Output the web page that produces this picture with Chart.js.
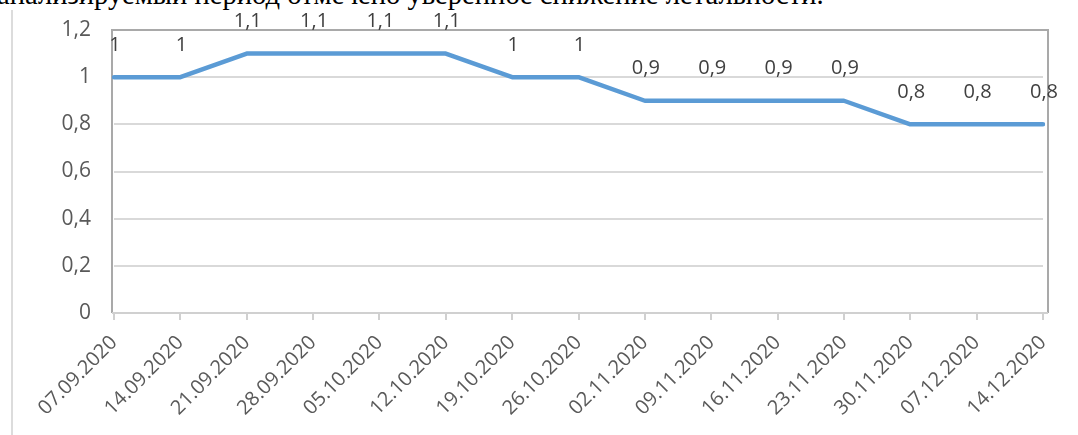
<!DOCTYPE html>
<html lang="ru">
<head>
  <meta charset="UTF-8">
  <title>Летальность</title>
  <script src="https://cdn.jsdelivr.net/npm/chart.js"></script>
  <style>
    html, body {
      margin: 0;
      padding: 0;
      background: #fff;
      overflow: hidden;
    }
    #page {
      position: relative;
      width: 1078px;
      height: 435px;
    }
    #topText {
      position: absolute;
      left: -3px;
      top: -20px;
      font-family: "Liberation Serif", serif;
      font-size: 28.6px;
      line-height: 29px;
      color: #000;
      white-space: nowrap;
    }
    #frameLine {
      position: absolute;
      left: 11px;
      top: 10px;
      width: 2px;
      height: 425px;
      background: #dcdcdc;
    }
    #chartBox {
      position: absolute;
      left: 0;
      top: 0;
      width: 1078px;
      height: 435px;
    }
  </style>
</head>
<body>
<div id="page">
  <div id="topText">анализируемый период отмечено уверенное снижение летальности.</div>
  <div id="frameLine"></div>
  <div id="chartBox"><canvas id="lethalityChart" width="1078" height="435"></canvas></div>
</div>

<script>
  const weeks = ['07.09.2020', '14.09.2020', '21.09.2020', '28.09.2020', '05.10.2020',
    '12.10.2020', '19.10.2020', '26.10.2020', '02.11.2020', '09.11.2020',
    '16.11.2020', '23.11.2020', '30.11.2020', '07.12.2020', '14.12.2020'];
  const lethality = [1, 1, 1.1, 1.1, 1.1, 1.1, 1, 1, 0.9, 0.9, 0.9, 0.9, 0.8, 0.8, 0.8];
  const yTicks = [0, 0.2, 0.4, 0.6, 0.8, 1, 1.2];

  const fmt = v => String(v).replace('.', ',');
  const FONT = '"Open Sans", "Liberation Sans", sans-serif';

  // plot border (grey frame round the plot area)
  const plotFrame = {
    id: 'plotFrame',
    beforeDatasetsDraw(chart) {
      const a = chart.chartArea;
      const ctx = chart.ctx;
      ctx.save();
      ctx.strokeStyle = '#a9a9a9';
      ctx.lineWidth = 2;
      ctx.beginPath();
      ctx.moveTo(a.left - 2, a.bottom);
      ctx.lineTo(a.left - 2, a.top);
      ctx.lineTo(a.right + 5, a.top);
      ctx.lineTo(a.right + 5, a.bottom);
      ctx.stroke();
      ctx.strokeStyle = '#d0d0d0';
      ctx.beginPath();
      ctx.moveTo(a.left - 2, a.bottom);
      ctx.lineTo(a.right + 5, a.bottom);
      ctx.stroke();
      ctx.restore();
    }
  };

  // value labels above each point
  const pointLabels = {
    id: 'pointLabels',
    afterDatasetsDraw(chart) {
      const ctx = chart.ctx;
      const meta = chart.getDatasetMeta(0);
      ctx.save();
      ctx.font = '20px ' + FONT;
      ctx.fillStyle = '#404040';
      ctx.textAlign = 'center';
      ctx.textBaseline = 'middle';
      meta.data.forEach((pt, i) => {
        ctx.fillText(fmt(lethality[i]), pt.x + 1, pt.y - 32);
      });
      ctx.restore();
    }
  };

  new Chart(document.getElementById('lethalityChart'), {
    type: 'line',
    data: {
      labels: weeks,
      datasets: [{
        data: lethality,
        borderColor: '#5b9bd5',
        borderWidth: 4.5,
        borderCapStyle: 'round',
        borderJoinStyle: 'round',
        pointRadius: 0,
        tension: 0,
        fill: false
      }]
    },
    options: {
      responsive: false,
      animation: false,
      layout: { padding: { left: 0, top: 30, right: 35, bottom: 0 } },
      plugins: {
        legend: { display: false },
        tooltip: { enabled: false }
      },
      scales: {
        x: {
          offset: false,
          border: { display: false },
          grid: {
            drawOnChartArea: false,
            drawTicks: true,
            tickLength: 7,
            color: '#d0d0d0',
            lineWidth: 2
          },
          ticks: {
            autoSkip: false,
            minRotation: 45,
            maxRotation: 45,
            padding: 11,
            color: '#595959',
            font: { family: FONT, size: 20 }
          },
          afterFit(scale) { scale.height = 122; scale.paddingTop = 0; }
        },
        y: {
          min: 0,
          max: 1.2,
          afterBuildTicks(scale) { scale.ticks = yTicks.map(v => ({ value: v })); },
          border: { display: false },
          grid: {
            color: (c) => c.tick && (c.tick.value === 0 || c.tick.value === 1.2) ? 'rgba(0,0,0,0)' : '#d9d9d9',
            lineWidth: 2,
            drawTicks: false
          },
          ticks: {
            padding: 23,
            color: '#595959',
            font: { family: FONT, size: 21 },
            callback: (v) => fmt(v)
          },
          afterFit(scale) { scale.width = 114; scale.paddingTop = 0; scale.paddingBottom = 0; }
        }
      }
    },
    plugins: [plotFrame, pointLabels]
  });
</script>
</body>
</html>
